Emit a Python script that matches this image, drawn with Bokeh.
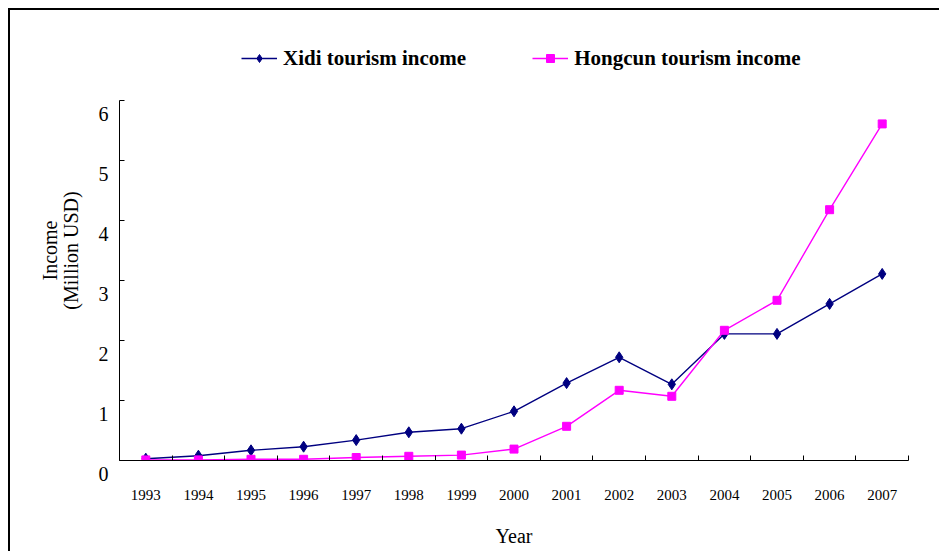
from bokeh.plotting import figure
from bokeh.models import (Range1d, FixedTicker, ColumnDataSource,
                          Legend, LegendItem, PrintfTickFormatter)
from bokeh.embed import file_html
from bokeh.resources import INLINE

years = list(range(1993, 2008))
xidi = [0.03, 0.08, 0.17, 0.23, 0.34, 0.47, 0.53, 0.82, 1.29, 1.72,
        1.27, 2.11, 2.11, 2.61, 3.11]
hongcun = [0.01, 0.01, 0.02, 0.02, 0.05, 0.07, 0.09, 0.19, 0.57, 1.17,
           1.07, 2.17, 2.67, 4.18, 5.61]
y_ticks = [0, 1, 2, 3, 4, 5, 6]
y_tick_labels = [str(v) for v in y_ticks]
series_names = ["Xidi tourism income", "Hongcun tourism income"]
x_title = "Year"
y_title = "Income\n(Million USD)"

FONT = "Liberation Serif"
NAVY = "#000080"
MAGENTA = "#FF00FF"

# frame reaches up to hold the legend; the y axis itself stops at 6
p = figure(width=931, height=543, output_backend="svg", toolbar_location=None,
           x_range=Range1d(years[0] - 0.5, years[-1] + 0.5),
           y_range=Range1d(y_ticks[0], y_ticks[-1] + 1),
           min_border_left=109, min_border_right=33,
           min_border_top=30, min_border_bottom=93)
p.margin = (8, 0, 0, 8)
p.styles = {"border-top": "2px solid black", "border-left": "2px solid black"}
p.outline_line_color = None
p.xgrid.visible = False
p.ygrid.visible = False

src = ColumnDataSource(dict(year=years, xidi=xidi, hongcun=hongcun))

l1 = p.line("year", "xidi", source=src, line_color=NAVY, line_width=1.4)
m1 = p.scatter("year", "xidi", source=src, marker="diamond", size=11,
               fill_color=NAVY, line_color=NAVY)
l2 = p.line("year", "hongcun", source=src, line_color=MAGENTA, line_width=1.4)
m2 = p.scatter("year", "hongcun", source=src, marker="square", size=8,
               fill_color=MAGENTA, line_color=MAGENTA)

# x axis: labels at years, boundary ticks as minor ticks
xa = p.xaxis[0]
xa.ticker = FixedTicker(ticks=years,
                        minor_ticks=[y - 0.5 for y in years] + [years[-1] + 0.5])
xa.formatter = PrintfTickFormatter(format="%d")
xa.major_tick_in = 0
xa.major_tick_out = 0
xa.minor_tick_in = 5
xa.minor_tick_out = 0
xa.minor_tick_line_color = "black"
xa.axis_line_color = "black"
xa.major_label_text_font = FONT
xa.major_label_text_font_size = "15px"
xa.major_label_text_color = "black"
xa.major_label_standoff = 29
xa.axis_label = x_title
xa.axis_label_text_font = FONT
xa.axis_label_text_font_size = "20px"
xa.axis_label_text_font_style = "normal"
xa.axis_label_text_color = "black"
xa.axis_label_standoff = 22

# y axis: labels sit a little below their ticks, as in the reference
ya = p.yaxis[0]
ya.bounds = (y_ticks[0], y_ticks[-1])
ya.ticker = FixedTicker(ticks=y_ticks)
ya.minor_tick_line_color = None
ya.major_tick_in = 5
ya.major_tick_out = 0
ya.major_tick_line_color = "black"
ya.axis_line_color = "black"
ya.major_label_overrides = {v: "\n" + t for v, t in zip(y_ticks, y_tick_labels)}
ya.major_label_text_font = FONT
ya.major_label_text_font_size = "20px"
ya.major_label_text_line_height = 1.2
ya.major_label_text_color = "black"
ya.major_label_standoff = 11
ya.axis_label = y_title
ya.axis_label_text_font = FONT
ya.axis_label_text_font_size = "20px"
ya.axis_label_text_line_height = 0.95
ya.axis_label_text_font_style = "normal"
ya.axis_label_text_color = "black"
ya.axis_label_standoff = 14

legend = Legend(items=[LegendItem(label=series_names[0], renderers=[l1, m1]),
                       LegendItem(label=series_names[1], renderers=[l2, m2])],
                orientation="horizontal", location=(122, 384),
                glyph_width=36, glyph_height=20, label_height=36,
                label_standoff=6, spacing=66,
                padding=0, margin=0, border_line_color=None,
                background_fill_alpha=0,
                label_text_font=FONT, label_text_font_size="21px",
                label_text_font_style="bold", label_text_color="black")
p.add_layout(legend, "center")

open("out.html", "w").write(file_html(p, INLINE))
